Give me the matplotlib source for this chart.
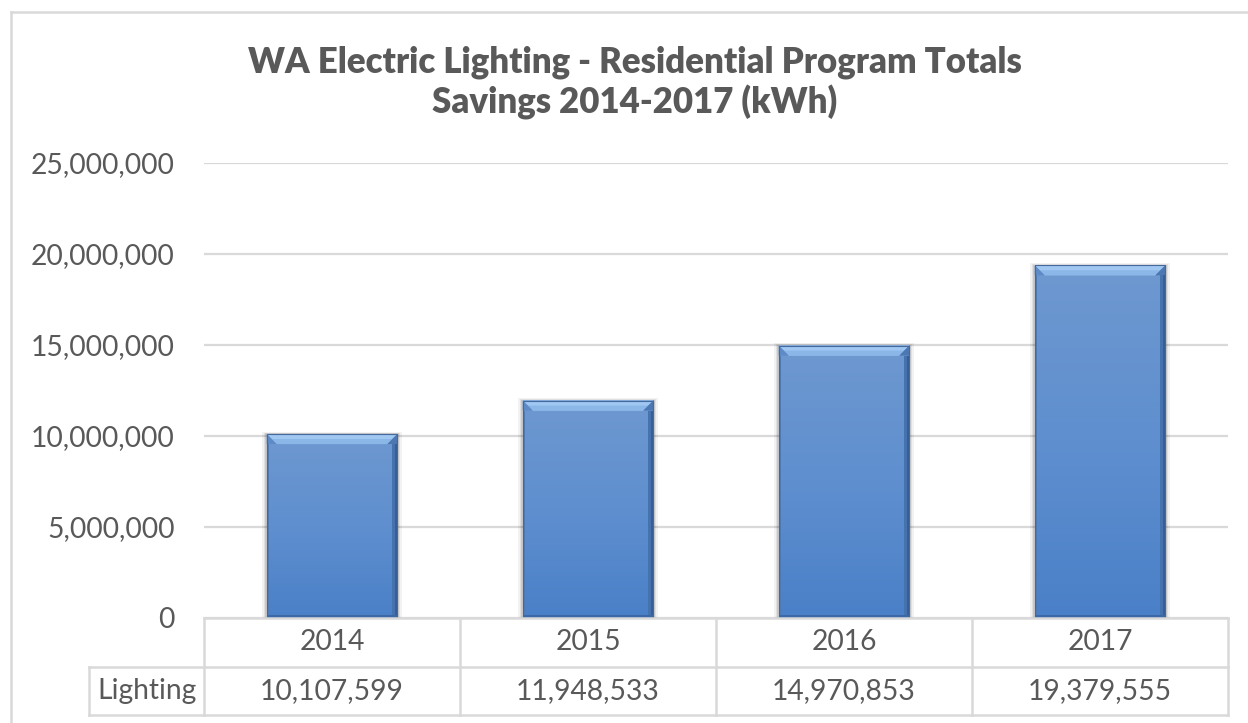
import matplotlib
matplotlib.use("Agg")
import matplotlib.pyplot as plt
from matplotlib.patches import Polygon, Rectangle
from matplotlib.lines import Line2D
import numpy as np

plt.rcParams['font.family'] = ['Lato', 'DejaVu Sans']

# data
years = ['2014', '2015', '2016', '2017']
lighting = [10107599, 11948533, 14970853, 19379555]
yticks = [0, 5000000, 10000000, 15000000, 20000000, 25000000]
series_name = 'Lighting'
title = 'WA Electric Lighting - Residential Program Totals\nSavings 2014-2017 (kWh)'

TXT = '#595959'
GRID = '#D9D9D9'
FS = 20.3

W, H = 1248, 723
fig = plt.figure(figsize=(W / 100, H / 100), dpi=100)

# plot area in pixels (left, right, top, bottom)
px_l, px_r, px_t, px_b = 204, 1228, 163, 618
ax = fig.add_axes([px_l / W, 1 - px_b / H, (px_r - px_l) / W, (px_b - px_t) / H])

for s in ax.spines.values():
    s.set_visible(False)
ax.set_xticks([])
ax.set_yticks(yticks)
ax.set_yticklabels(['{:,}'.format(v) for v in yticks], fontsize=FS, color=TXT)
ax.tick_params(axis='y', length=0, pad=21)
ax.grid(axis='y', color=GRID, linewidth=1.6)
ax.set_axisbelow(True)

# bars with a bevel look
bw = 0.51
x = np.arange(len(years))
ppx = len(years) / (px_r - px_l)            # data units per pixel, x
ppy = 25000000 / (px_b - px_t)              # data units per pixel, y
bev_x, bev_y = 10 * ppx, 10 * ppy
grad = np.linspace(0, 1, 256).reshape(-1, 1)
cmap_body = matplotlib.colors.LinearSegmentedColormap.from_list(
    'body', ['#6E98D0', '#5F8FCF', '#4A80C8'])
cmap_top = matplotlib.colors.LinearSegmentedColormap.from_list(
    'top', ['#A4CAF2', '#A9D0F7', '#86B2E6'])

for xi, v in zip(x, lighting):
    l, r = xi - bw / 2, xi + bw / 2
    # soft shadow
    for k, a in [(5, 0.05), (3, 0.07), (1.5, 0.1)]:
        ax.add_patch(Rectangle((l - k * ppx, 0), bw + 2 * k * ppx, v + k * ppy * 0.5,
                               facecolor='#000000', alpha=a, linewidth=0, zorder=2))
    ax.imshow(grad, extent=[l, r, 0, v], cmap=cmap_body, aspect='auto', zorder=3,
              interpolation='bilinear')
    # top bevel
    ax.add_patch(Polygon([(l, v), (r, v), (r - bev_x, v - bev_y), (l + bev_x, v - bev_y)],
                         closed=True, facecolor='#9FC7F1', edgecolor='none', zorder=4))
    ax.add_patch(Polygon([(l + bev_x * 0.5, v - bev_y * 0.5), (r - bev_x * 0.5, v - bev_y * 0.5),
                          (r - bev_x, v - bev_y), (l + bev_x, v - bev_y)],
                         closed=True, facecolor='#8AB6E8', edgecolor='none', zorder=4))
    ax.add_patch(Polygon([(l, v), (l + bev_x, v - bev_y), (l, v - bev_y)],
                         closed=True, facecolor='#5E8AC6', edgecolor='none', zorder=4))
    ax.add_patch(Polygon([(r, v), (r - bev_x, v - bev_y), (r, v - bev_y)],
                         closed=True, facecolor='#4D77B2', edgecolor='none', zorder=4))
    # side edges
    ax.add_patch(Rectangle((l, 0), 2.5 * ppx, v - bev_y, facecolor='#4E79B4',
                           edgecolor='none', zorder=4))
    ax.add_patch(Rectangle((r - 5 * ppx, 0), 2.5 * ppx, v - bev_y, facecolor='#4672AE',
                           edgecolor='none', zorder=4))
    ax.add_patch(Rectangle((r - 2.5 * ppx, 0), 2.5 * ppx, v - bev_y, facecolor='#365F98',
                           edgecolor='none', zorder=4))
    ax.add_patch(Rectangle((l, 0), bw, 3 * ppy, facecolor='#3C69A6',
                           edgecolor='none', zorder=4))
    ax.add_patch(Rectangle((l, 0), bw, v, facecolor='none', edgecolor='#45699C',
                           linewidth=0.8, zorder=5))

ax.set_xlim(-0.5, len(years) - 0.5)
ax.set_ylim(0, 25000000)

# data table below the plot area
row1_t, row1_b, row2_b = 618, 667, 715
lab_l = 89


def fx(p):
    return p / W


def fy(p):
    return 1 - p / H


col_w = (px_r - px_l) / len(years)
lines = [
    ([px_l, px_r], [row1_t, row1_t]),
    ([lab_l, px_r], [row1_b, row1_b]),
    ([lab_l, px_r], [row2_b, row2_b]),
    ([lab_l, lab_l], [row1_b, row2_b]),
]
for i in range(len(years) + 1):
    xp = px_l + i * col_w
    lines.append(([xp, xp], [row1_t, row2_b]))
for xs, ys in lines:
    fig.add_artist(Line2D([fx(v) for v in xs], [fy(v) for v in ys], color=GRID, linewidth=1.8))

for i, (yr, v) in enumerate(zip(years, lighting)):
    cx = px_l + (i + 0.5) * col_w
    fig.text(fx(cx), fy((row1_t + row1_b) / 2), yr, ha='center', va='center',
             fontsize=FS, color=TXT)
    fig.text(fx(cx), fy((row1_b + row2_b) / 2), '{:,}'.format(v), ha='center', va='center',
             fontsize=FS, color=TXT)
fig.text(fx((lab_l + px_l) / 2), fy((row1_b + row2_b) / 2), series_name, ha='center',
         va='center', fontsize=FS, color=TXT)

# title
fig.text(fx(635), fy(83), title, ha='center', va='center', fontsize=25, fontweight='heavy',
         color=TXT, linespacing=1.2)

# chart frame (only top and left visible in the crop)
fig.add_artist(Line2D([fx(11), fx(11)], [fy(12), fy(H)], color=GRID, linewidth=1.8))
fig.add_artist(Line2D([fx(11), fx(W)], [fy(12), fy(12)], color=GRID, linewidth=1.8))

fig.savefig('out.png', dpi=100)
